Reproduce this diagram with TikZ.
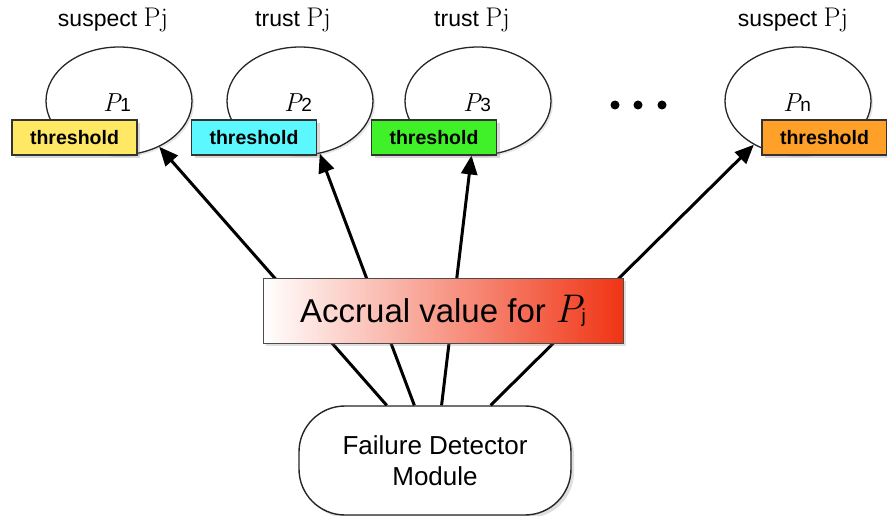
\documentclass[tikz,border=0pt]{standalone}
\usepackage{fontspec}
\setmainfont{Liberation Sans}
\usetikzlibrary{arrows.meta,shadows,shapes.geometric}
\newcommand{\lmup}{\fontfamily{lmr}\selectfont}
\newcommand{\lmit}{\fontfamily{lmr}\itshape}
\definecolor{thyellow}{RGB}{255,232,100}
\definecolor{thcyan}{RGB}{92,248,255}
\definecolor{thgreen}{RGB}{64,240,40}
\definecolor{thorange}{RGB}{255,160,40}
\definecolor{accred}{RGB}{240,52,20}
\begin{document}
\begin{tikzpicture}[x=1pt,y=-1pt,
  proc/.style={ellipse, draw=black!85, line width=1.3pt, minimum width=146pt, minimum height=108pt, inner sep=0pt, fill=white,
    drop shadow={opacity=0.2, shadow xshift=2pt, shadow yshift=-2pt}},
  plab/.style={inner sep=0pt, anchor=base},
  thr/.style={draw=black!80, line width=1.2pt, minimum width=125pt, minimum height=35pt, inner sep=0pt,
    font=\fontsize{19.5}{20}\selectfont\bfseries,
    drop shadow={opacity=0.3, shadow xshift=3pt, shadow yshift=-3pt}},
  arr/.style={line width=3pt, -{Triangle[length=19pt,width=16pt]}},
  toplab/.style={anchor=base, inner sep=0pt, font=\fontsize{23}{26}\selectfont},
  dotn/.style={circle, fill=black, inner sep=0pt, minimum size=9pt},
]
\useasboundingbox (0,0) rectangle (887,516);

% process ellipses
\node[proc] (p1) at (119,101) {};
\node[proc] (p2) at (300,101) {};
\node[proc] (p3) at (478,101) {};
\node[proc] (pn) at (798,101) {};

\node[plab] (l1) at (117,112) {{\fontsize{26}{26}\lmit P}{\fontsize{19}{19}\selectfont 1}};
\node[plab] (l2) at (298,112) {{\fontsize{26}{26}\lmit P}{\fontsize{19}{19}\selectfont 2}};
\node[plab] (l3) at (477,112) {{\fontsize{26}{26}\lmit P}{\fontsize{19}{19}\selectfont 3}};
\node[plab] (ln) at (797,112) {{\fontsize{26}{26}\lmit P}{\fontsize{19}{19}\selectfont n}};

% top labels
\node[toplab] (t1) at (113,27) {suspect {\fontsize{27}{27}\lmup Pj}};
\node[toplab] (t2) at (293,27) {trust {\fontsize{27}{27}\lmup Pj}};
\node[toplab] (t3) at (472,27) {trust {\fontsize{27}{27}\lmup Pj}};
\node[toplab] (tn) at (793,27) {suspect {\fontsize{27}{27}\lmup Pj}};

% dots
\node[dotn] (d1) at (615,105) {};
\node[dotn] (d2) at (638,105) {};
\node[dotn] (d3) at (662,105) {};

% failure detector module
\node[draw=black!85, line width=1.4pt, rounded corners=46pt, minimum width=272pt, minimum height=109pt,
  fill=white, align=center, font=\fontsize{26}{31}\selectfont,
  drop shadow={opacity=0.25, shadow xshift=3pt, shadow yshift=-3pt}] (fdm) at (435,460.5)
  {Failure Detector\\Module};

% arrows
\draw[arr] (fdm) -- (p1);
\draw[arr] (fdm) -- (p2);
\draw[arr] (fdm) -- (p3);
\draw[arr] (fdm) -- (pn);

% threshold boxes
\node[thr, fill=thyellow] (th1) at (74.5,137.5) {threshold};
\node[thr, fill=thcyan] (th2) at (254,137.5) {threshold};
\node[thr, fill=thgreen] (th3) at (434,137.5) {threshold};
\node[thr, fill=thorange] (thn) at (824.5,137.5) {threshold};

% accrual box
\node[draw=black!70, line width=0.8pt, minimum width=360pt, minimum height=65pt, inner sep=0pt,
  left color=white, right color=accred, shading angle=90,
  drop shadow={opacity=0.25, shadow xshift=3pt, shadow yshift=-3pt},
  font=\fontsize{33}{33}\selectfont] (acc) at (443,310.5)
  {Accrual value for {\fontsize{40}{40}\lmit P}{\fontsize{19}{19}\selectfont j}};
\end{tikzpicture}
\end{document}
